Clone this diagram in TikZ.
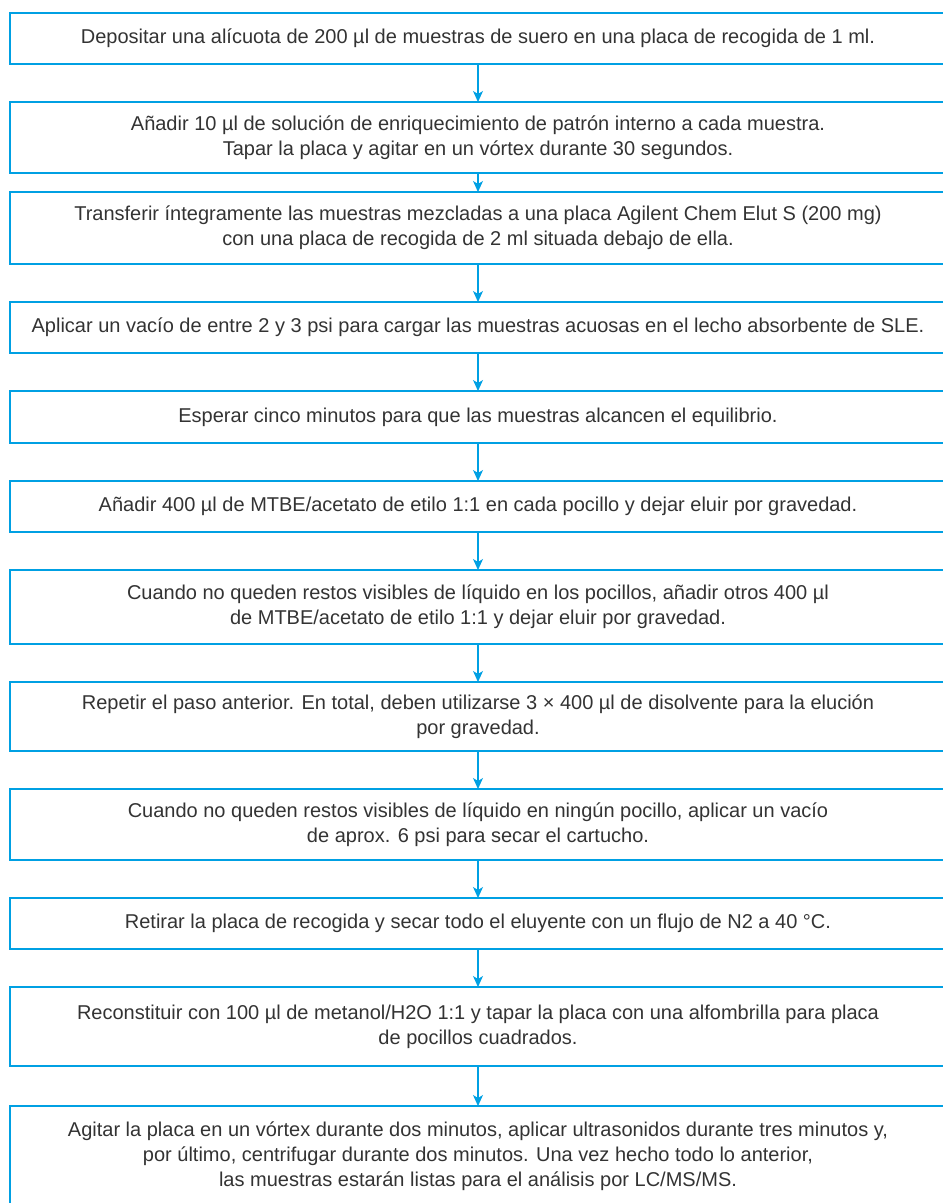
\documentclass[tikz,border=0pt]{standalone}
\usepackage{fontspec}
\setmainfont{Liberation Sans}
\usetikzlibrary{arrows.meta,positioning}
\definecolor{stepblue}{RGB}{0,160,227}
\definecolor{steptext}{RGB}{51,51,51}

\begin{document}
\begin{tikzpicture}[x=1pt,y=1pt,node distance=38pt,
stepbox/.style={draw=stepblue,line width=1.5pt,minimum width=936pt,minimum height=51pt,outer sep=0pt,
inner xsep=0pt,inner ysep=4pt,align=center,text=steptext,font=\fontsize{20}{25}\selectfont},
flow/.style={draw=stepblue,line width=1.2pt,-{Stealth[length=11pt,width=10pt,inset=3pt]}}]
\useasboundingbox (0,0) rectangle (943,-1203);
\clip (0,0) rectangle (943,-1203);

\node[stepbox,anchor=north west] (s1) at (10,-13) {Depositar una alícuota de 200 µl de muestras de suero en una placa de recogida de 1 ml.};
\node[stepbox,below=of s1,minimum height=71pt] (s2) {Añadir 10 µl de solución de enriquecimiento de patrón interno a cada muestra.\\
Tapar la placa y agitar en un vórtex durante 30 segundos.};
\node[stepbox,below=19pt of s2,minimum height=72pt] (s3) {Transferir íntegramente las muestras mezcladas a una placa Agilent Chem Elut S (200 mg)\\
con una placa de recogida de 2 ml situada debajo de ella.};
\node[stepbox,below=of s3] (s4) {Aplicar un vacío de entre 2 y 3 psi para cargar las muestras acuosas en el lecho absorbente de SLE.};
\node[stepbox,below=of s4,minimum height=52pt] (s5) {Esperar cinco minutos para que las muestras alcancen el equilibrio.};
\node[stepbox,below=of s5] (s6) {Añadir 400 µl de MTBE/acetato de etilo 1:1 en cada pocillo y dejar eluir por gravedad.};
\node[stepbox,below=of s6,minimum height=74pt] (s7) {Cuando no queden restos visibles de líquido en los pocillos, añadir otros 400 µl\\
de MTBE/acetato de etilo 1:1 y dejar eluir por gravedad.};
\node[stepbox,below=of s7,minimum height=69pt] (s8) {Repetir el paso anterior. En total, deben utilizarse 3 × 400 µl de disolvente para la elución\\
por gravedad.};
\node[stepbox,below=of s8,minimum height=71pt] (s9) {Cuando no queden restos visibles de líquido en ningún pocillo, aplicar un vacío\\
de aprox. 6 psi para secar el cartucho.};
\node[stepbox,below=of s9] (s10) {Retirar la placa de recogida y secar todo el eluyente con un flujo de N2 a 40 °C.};
\node[stepbox,below=of s10,minimum height=79pt] (s11) {Reconstituir con 100 µl de metanol/H2O 1:1 y tapar la placa con una alfombrilla para placa\\
de pocillos cuadrados.};
\node[stepbox,below=40pt of s11,minimum height=100pt] (s12) {Agitar la placa en un vórtex durante dos minutos, aplicar ultrasonidos durante tres minutos y,\\
por último, centrifugar durante dos minutos. Una vez hecho todo lo anterior,\\
las muestras estarán listas para el análisis por LC/MS/MS.};

% connectors
\foreach \a/\b in {s1/s2,s2/s3,s3/s4,s4/s5,s5/s6,s6/s7,s7/s8,s8/s9,s9/s10,s10/s11,s11/s12}
  \draw[flow] (\a) -- (\b);
\end{tikzpicture}
\end{document}
